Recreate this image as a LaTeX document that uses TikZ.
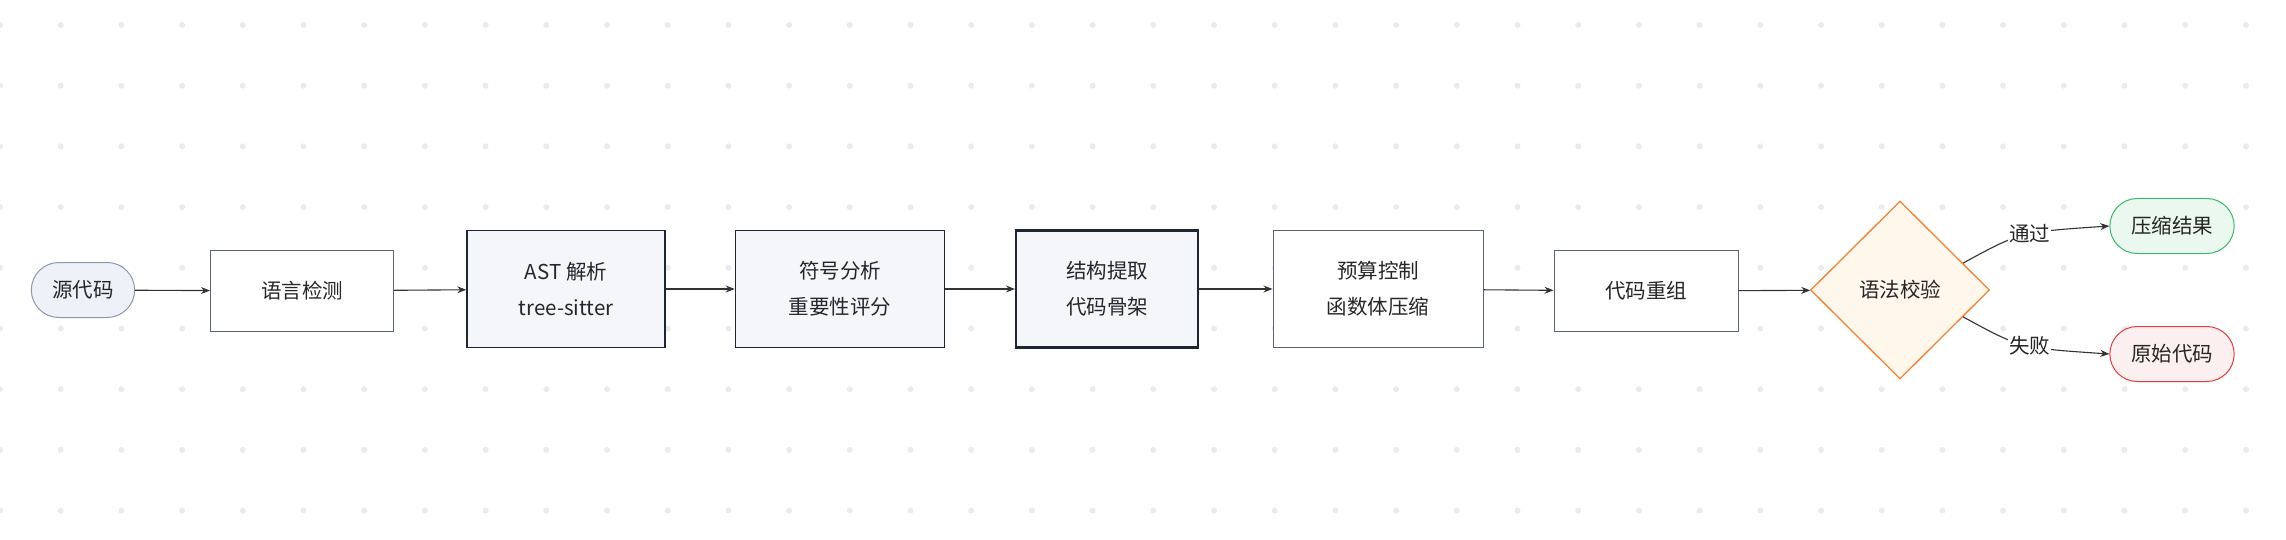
\documentclass[tikz,border=0pt]{standalone}
\usepackage{fontspec}
\setmainfont{Noto Sans CJK SC}
\usetikzlibrary{arrows.meta,shapes.geometric,shapes.misc,calc}
\definecolor{edgegray}{HTML}{333333}
\definecolor{boxline}{HTML}{5A6378}
\definecolor{darkline}{HTML}{1F2633}
\definecolor{softfill}{HTML}{F4F6FA}
\definecolor{srcline}{HTML}{8E98AC}
\definecolor{srcfill}{HTML}{EEF1F7}
\definecolor{okline}{HTML}{3DB86A}
\definecolor{okfill}{HTML}{EAF8EF}
\definecolor{failline}{HTML}{DE3B3B}
\definecolor{failfill}{HTML}{FCEFEF}
\definecolor{decline}{HTML}{F08232}
\definecolor{decfill}{HTML}{FFF6EC}
\begin{document}
\begin{tikzpicture}[x=1pt,y=-1pt]
        \tikzset{>={Stealth[length=9pt,width=7pt]}}
        \tikzstyle{flow}=[->,draw=edgegray,line width=1.1pt]
        \tikzstyle{box}=[rectangle,draw=boxline,fill=white,line width=1pt,align=center,font=\fontsize{20.5pt}{36pt}\selectfont,text=black!85]
        \tikzstyle{stage}=[box,fill=softfill,draw=darkline,line width=1.6pt,minimum height=117pt]
        \tikzstyle{pill}=[rounded rectangle,line width=1pt,font=\fontsize{20.5pt}{24pt}\selectfont,text=black!85,minimum height=55pt]
        \tikzstyle{tag}=[font=\fontsize{20.5pt}{24pt}\selectfont,text=black!85,fill=white,inner sep=1pt]

        \useasboundingbox (0,0) rectangle (2286,540);
        \foreach \i in {0,...,37}
          \foreach \j in {0,...,8}
            \fill[black!8] (\i*60.7,25+\j*60.7) circle (3pt);

        \node[pill,draw=srcline,fill=srcfill,minimum width=110pt] (src) at (83,290) {源代码};
        \node[box,minimum width=183pt,minimum height=81pt] (lang) at (302,291) {语言检测};
        \node[stage,minimum width=198pt] (ast) at (566,289) {AST 解析\\tree-sitter};
        \node[stage,minimum width=209pt] (sym) at (840,289) {符号分析\\重要性评分};
        \node[stage,minimum width=182pt,line width=2.2pt] (skel) at (1107,289) {结构提取\\代码骨架};
        \node[box,minimum width=210pt,minimum height=117pt] (budget) at (1378,289) {预算控制\\函数体压缩};
        \node[box,minimum width=184pt,minimum height=81pt] (merge) at (1646,291) {代码重组};
        \node[diamond,draw=decline,fill=decfill,line width=1.3pt,minimum width=179pt,minimum height=178pt,inner sep=0pt,font=\fontsize{20.5pt}{24pt}\selectfont,text=black!85] (check) at (1900,290) {语法校验};
        \node[pill,draw=okline,fill=okfill,minimum width=131pt] (ok) at (2172,226) {压缩结果};
        \node[pill,draw=failline,fill=failfill,minimum width=131pt] (fail) at (2172,354) {原始代码};

        \coordinate (okstart) at ($(check.north)!0.7!(check.east)$);
        \coordinate (failstart) at ($(check.south)!0.7!(check.east)$);

        \draw[flow] (src) to (lang);
        \draw[flow] (lang) to (ast);
        \draw[flow] (ast) to (sym);
        \draw[flow] (sym) to (skel);
        \draw[flow] (skel) to (budget);
        \draw[flow] (budget) to (merge);
        \draw[flow] (merge) to (check);
        \draw[flow] (okstart) .. controls (2020,232) .. node[tag,pos=0.55] {通过} (ok.west);
        \draw[flow] (failstart) .. controls (2020,348) .. node[tag,pos=0.55] {失败} (fail.west);
    \end{tikzpicture}
\end{document}
